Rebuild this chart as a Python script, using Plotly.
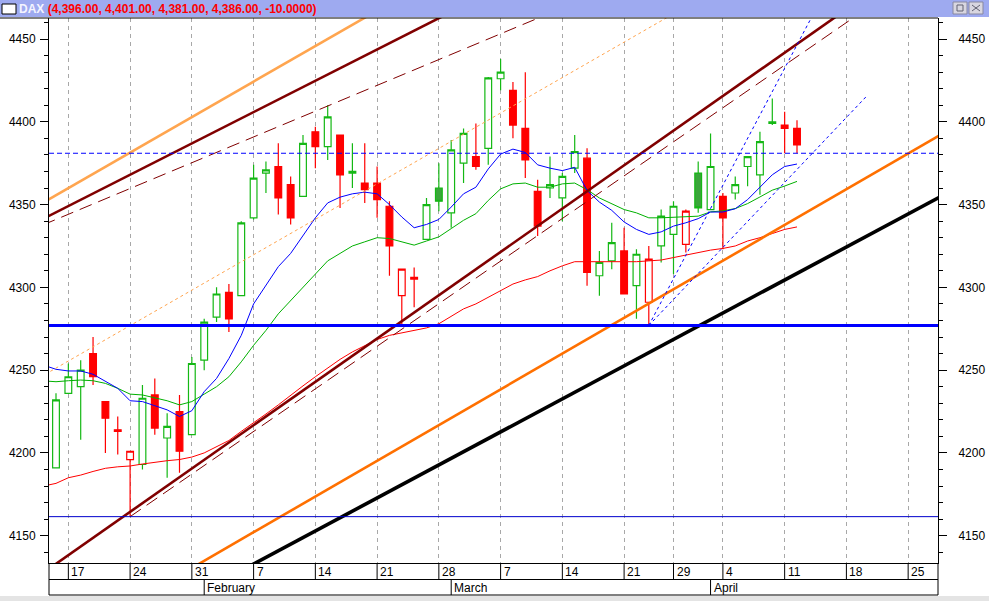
import plotly.graph_objects as go
import pandas as pd

# ---------------- data ----------------
HOLIDAYS = ["2005-03-25", "2005-03-28"]
CAL_START, CAL_END = "2005-01-13", "2005-04-29"
FIRST_CANDLE = "2005-01-14"
MA_START = "2005-01-13"

OPEN = [4191, 4236, 4240, 4260, 4231, 4214, 4196, 4193, 4235, 4209,
        4225, 4211, 4256, 4282, 4297, 4295, 4342, 4369, 4373, 4362,
        4355, 4394, 4385, 4392, 4369, 4363, 4363, 4349, 4295, 4306,
        4329, 4360, 4345, 4375, 4379, 4384, 4426, 4419, 4396, 4358,
        4360, 4354, 4372, 4378, 4307, 4316, 4322, 4301, 4291, 4325,
        4332, 4326, 4369, 4347, 4355, 4357, 4373, 4368, 4399, 4398, 4396]
HIGH = [4236, 4254, 4256, 4270, 4231, 4222, 4201, 4241, 4245, 4224,
        4235, 4258, 4281, 4300, 4302, 4340, 4374, 4376, 4387, 4367,
        4392, 4397, 4410, 4392, 4387, 4387, 4373, 4352, 4311, 4312,
        4354, 4375, 4389, 4396, 4399, 4427, 4438, 4424, 4430, 4365,
        4379, 4369, 4392, 4384, 4322, 4339, 4336, 4323, 4325, 4347,
        4352, 4347, 4376, 4393, 4357, 4367, 4379, 4394, 4414, 4406, 4401]
LOW = [4191, 4236, 4208, 4241, 4200, 4199, 4161.5, 4190, 4211, 4185,
       4188, 4211, 4250, 4279, 4273, 4295, 4341, 4357, 4344, 4338,
       4355, 4372, 4377, 4348, 4360, 4351, 4342, 4307, 4277, 4288,
       4329, 4346, 4336, 4363, 4371, 4374, 4419, 4390, 4366, 4331,
       4354, 4340, 4369, 4301, 4295, 4311, 4296, 4281, 4277, 4315,
       4308, 4321, 4345, 4347, 4323, 4353, 4361, 4356, 4398, 4381, 4381]
CLOSE = [4232, 4246, 4250, 4246, 4221, 4213, 4201, 4233, 4215, 4216,
         4201, 4254, 4279, 4296, 4281, 4339, 4366, 4371, 4354, 4342,
         4387, 4385, 4403, 4368, 4370, 4359, 4353, 4325, 4311, 4305,
         4350, 4352, 4383, 4393, 4373, 4426.5, 4430, 4398, 4377, 4337,
         4362, 4367, 4382, 4309, 4315, 4327, 4296, 4320, 4317, 4343,
         4349, 4346, 4348, 4373, 4342, 4362, 4379, 4388, 4400, 4396, 4386]

MA_FAST = [4253, 4250.5, 4249.5, 4249.5, 4247.5, 4243, 4239, 4231.5, 4231, 4228.5, 4226,
           4222, 4225.5, 4237, 4245, 4257, 4271, 4290, 4301, 4312.5, 4320.5,
           4331, 4342, 4351, 4354.5, 4356.5, 4357.5, 4356.5, 4350, 4342.5, 4336,
           4338, 4341, 4348.5, 4356.5, 4360.5, 4371.5, 4380.5, 4383.5, 4381.5, 4374,
           4372, 4370.5, 4372.5, 4358.5, 4351.5, 4346.5, 4339.5, 4335, 4332, 4333.5,
           4337, 4339, 4341.5, 4345.5, 4345.5, 4347.5, 4353, 4360.5, 4368, 4373, 4374.5]
MA_MID = [4243.5, 4243, 4243.6, 4244, 4243.6, 4242, 4239, 4235.5, 4235, 4233.3, 4231.5,
          4229, 4231, 4235.5, 4240, 4246, 4255, 4265, 4274, 4284, 4292,
          4300, 4308, 4316, 4320.5, 4325, 4327.5, 4330, 4329.5, 4327.5, 4325.5,
          4328, 4330.5, 4335.5, 4340.5, 4344.5, 4352.5, 4359.5, 4362.5, 4363, 4360.5,
          4360.5, 4362.5, 4363, 4359, 4354, 4350.5, 4347, 4345, 4342, 4342,
          4342.2, 4342.5, 4343, 4345.6, 4346.2, 4347.6, 4350.6, 4354.6, 4358.7, 4361.2, 4364]
MA_SLOW = [4180, 4181.6, 4185, 4186.6, 4188.8, 4190.7, 4191.6, 4192.1, 4193.3, 4194.5, 4195.3,
           4196, 4197.5, 4200, 4204, 4207.5, 4213, 4218, 4223.5, 4229, 4235,
           4240.5, 4246, 4251.5, 4256.5, 4261, 4265, 4268.5, 4271, 4272.5, 4274,
           4275.5, 4278, 4282.5, 4287, 4290, 4294, 4297.5, 4302, 4304.5, 4306.5,
           4310, 4313, 4315.5, 4315.5, 4315.5, 4315.5, 4315.5, 4315.5, 4316, 4316.5,
           4318, 4319.5, 4321, 4322.5, 4323.5, 4325, 4328, 4330, 4332.5, 4335, 4336.5]

# trend lines: (session pos 0, price 0, session pos 1, price 1, extend mode)
# extend: "both" = full line across chart, "ray" = from first point onwards, "seg" = segment
TRENDS = {
    "maroon_low":    (3.753, 4147.4, 50.72, 4393.2, "both"),
    "maroon_low_d":  (7.0, 4161.5, 65.4, 4462.0, "ray"),
    "maroon_up":     (0.514, 4343.5, 27.64, 4446.1, "both"),
    "maroon_up_d":   (0.514, 4339.5, 27.64, 4424.0, "both"),
    "orange_up":     (0.514, 4353.6, 25.75, 4461.8, "both"),
    "orange_mid":    (11.04, 4294.2, 50.36, 4462.5, "both"),
    "orange_low":    (12.93, 4134.5, 57.87, 4328.5, "both"),
    "black_low":     (17.15, 4133.5, 72.58, 4354.6, "both"),
    "blue_fan_1":    (49.0, 4277.0, 62.1, 4462.0, "ray"),
    "blue_fan_2":    (49.0, 4277.0, 66.64, 4415.5, "seg"),
}
LEVEL_SUPPORT = 4277
LEVEL_RESIST = 4381
LEVEL_LOW = 4161.5

TITLE_NAME = "DAX"
TITLE_VALUES = "(4,396.00, 4,401.00, 4,381.00, 4,386.00, -10.0000)"
Y_TICKS = [4150, 4200, 4250, 4300, 4350, 4400, 4450]

# ---------------- calendar ----------------
cal = [d for d in pd.bdate_range(CAL_START, CAL_END) if d.strftime("%Y-%m-%d") not in HOLIDAYS]
pos = {d.strftime("%Y-%m-%d"): i for i, d in enumerate(cal)}
c0 = pos[FIRST_CANDLE]
cx = list(range(c0, c0 + len(CLOSE)))
m0 = pos[MA_START]
mx = list(range(m0, m0 + len(MA_FAST)))

week_ticks = [i for i in range(1, len(cal)) if cal[i].isocalendar()[1] != cal[i - 1].isocalendar()[1]]
month_starts = [i for i in range(1, len(cal)) if cal[i].month != cal[i - 1].month]

X_RANGE = [0.433, 72.417]
Y_RANGE = [4133.5, 4462.7]

# ---------------- styling ----------------
FONT = "Liberation Sans, Arial, sans-serif"
GREEN = "#14b814"
GREEN_FILL = "#3aa53a"
RED = "#ff0000"
MAROON = "#800000"
ORANGE_LIGHT = "#ffa54f"
ORANGE = "#ff7000"
BLUE = "#0000ff"

PL, PR, PT, PB = 49, 938, 18, 563
W, H = 989, 601


def fx(p):
    return (p - PL) / (PR - PL)


def fy(p):
    return (PB - p) / (PB - PT)


fig = go.Figure()

# candles: colour by close vs previous close, fill by close vs open
n = len(CLOSE)
is_up = [True] + [CLOSE[k] >= CLOSE[k - 1] for k in range(1, n)]
for up, col, fill_dn in [(True, GREEN, GREEN_FILL), (False, RED, RED)]:
    idx = [k for k in range(n) if is_up[k] == up]
    fig.add_trace(go.Candlestick(
        x=[cx[k] for k in idx],
        open=[OPEN[k] for k in idx], high=[HIGH[k] for k in idx],
        low=[LOW[k] for k in idx], close=[CLOSE[k] for k in idx],
        increasing=dict(line=dict(color=col, width=1.2), fillcolor="white"),
        decreasing=dict(line=dict(color=col, width=1.2), fillcolor=fill_dn),
        whiskerwidth=0, hoverinfo="skip", showlegend=False))

# moving averages
for vals, col in [(MA_SLOW, RED), (MA_MID, "#00b000"), (MA_FAST, BLUE)]:
    fig.add_trace(go.Scatter(x=mx, y=vals, mode="lines", line=dict(color=col, width=1),
                             hoverinfo="skip", showlegend=False))


def trend_xy(x0, y0, x1, y1, mode):
    slope = (y1 - y0) / (x1 - x0)
    xa = X_RANGE[0] - 2 if mode == "both" else x0
    xb = X_RANGE[1] + 2 if mode in ("both", "ray") else x1
    return [xa, xb], [y0 + slope * (xa - x0), y0 + slope * (xb - x0)]


TREND_STYLE = {
    "maroon_low": dict(color=MAROON, width=2.6),
    "maroon_low_d": dict(color=MAROON, width=1, dash="13px,7px"),
    "maroon_up": dict(color=MAROON, width=2.6),
    "maroon_up_d": dict(color=MAROON, width=1, dash="13px,7px"),
    "orange_up": dict(color=ORANGE_LIGHT, width=2.6),
    "orange_mid": dict(color=ORANGE_LIGHT, width=1, dash="3px,3px"),
    "orange_low": dict(color=ORANGE, width=2.6),
    "black_low": dict(color="#000000", width=3.6),
    "blue_fan_1": dict(color=BLUE, width=1, dash="3px,3px"),
    "blue_fan_2": dict(color=BLUE, width=1, dash="3px,3px"),
}
for name, (x0, y0, x1, y1, mode) in TRENDS.items():
    xs, ys = trend_xy(x0, y0, x1, y1, mode)
    fig.add_trace(go.Scatter(x=xs, y=ys, mode="lines", line=TREND_STYLE[name],
                             hoverinfo="skip", showlegend=False))

# dummy trace for right axis
fig.add_trace(go.Scatter(x=[cx[0]], y=[CLOSE[0]], yaxis="y2", mode="markers",
                         marker=dict(opacity=0), hoverinfo="skip", showlegend=False))

shapes = []
# horizontal levels
shapes.append(dict(type="line", xref="paper", yref="y", x0=0, x1=1, y0=LEVEL_SUPPORT, y1=LEVEL_SUPPORT,
                   line=dict(color=BLUE, width=3), layer="above"))
shapes.append(dict(type="line", xref="paper", yref="y", x0=0, x1=1, y0=LEVEL_RESIST, y1=LEVEL_RESIST,
                   line=dict(color=BLUE, width=1, dash="5px,3px"), layer="above"))
shapes.append(dict(type="line", xref="paper", yref="y", x0=0, x1=1, y0=LEVEL_LOW, y1=LEVEL_LOW,
                   line=dict(color="#0000cc", width=1), layer="above"))

# title bar
shapes.append(dict(type="rect", xref="paper", yref="paper", x0=fx(0), x1=fx(W), y0=fy(17), y1=fy(0),
                   fillcolor="#9eaaf0", line=dict(width=0), layer="above"))
shapes.append(dict(type="rect", xref="paper", yref="paper", x0=fx(2), x1=fx(16), y0=fy(14), y1=fy(4),
                   fillcolor="white", line=dict(color="black", width=1), layer="above"))
for bx in (953, 969):
    shapes.append(dict(type="rect", xref="paper", yref="paper", x0=fx(bx), x1=fx(bx + 14), y0=fy(14), y1=fy(2),
                       fillcolor="#d8d6e0", line=dict(color="#8888a0", width=1), layer="above"))
shapes.append(dict(type="rect", xref="paper", yref="paper", x0=fx(957), x1=fx(963), y0=fy(11), y1=fy(5),
                   line=dict(color="#606070", width=1), layer="above"))
shapes.append(dict(type="line", xref="paper", yref="paper", x0=fx(972), x1=fx(980), y0=fy(11), y1=fy(5),
                   line=dict(color="#606070", width=1), layer="above"))
shapes.append(dict(type="line", xref="paper", yref="paper", x0=fx(972), x1=fx(980), y0=fy(5), y1=fy(11),
                   line=dict(color="#606070", width=1), layer="above"))
# top border
shapes.append(dict(type="line", xref="paper", yref="paper", x0=fx(0), x1=1, y0=1, y1=1,
                   line=dict(color="black", width=1.2), layer="above"))
# bottom date strip
shapes.append(dict(type="rect", xref="paper", yref="paper", x0=fx(0), x1=fx(W), y0=fy(H), y1=fy(596),
                   fillcolor="#e4e4e4", line=dict(width=0)))
for yy in (579.5, 595):
    shapes.append(dict(type="line", xref="paper", yref="paper", x0=0, x1=1, y0=fy(yy), y1=fy(yy),
                       line=dict(color="black", width=1)))
for xx in (0, 1):
    shapes.append(dict(type="line", xref="paper", yref="paper", x0=xx, x1=xx, y0=fy(563), y1=fy(595),
                       line=dict(color="black", width=1)))
for t in week_ticks:
    if X_RANGE[0] < t < X_RANGE[1]:
        shapes.append(dict(type="line", xref="x", yref="paper", x0=t, x1=t, y0=0, y1=fy(579.5),
                           line=dict(color="black", width=1)))
for m in month_starts:
    shapes.append(dict(type="line", xref="x", yref="paper", x0=m, x1=m, y0=fy(579.5), y1=fy(595),
                       line=dict(color="black", width=1)))
    if min(abs(m - t) for t in week_ticks) > 1:
        shapes.append(dict(type="line", xref="x", yref="paper", x0=m, x1=m, y0=0, y1=fy(579.5),
                           line=dict(color="black", width=1)))

annotations = []
for t in week_ticks:
    if X_RANGE[0] < t < X_RANGE[1] - 1:
        annotations.append(dict(x=t, y=fy(571.5), xref="x", yref="paper", text=str(cal[t].day),
                                showarrow=False, xanchor="left", yanchor="middle", xshift=1,
                                font=dict(family=FONT, size=12, color="black")))
for m in month_starts:
    annotations.append(dict(x=m, y=fy(587.5), xref="x", yref="paper", text=cal[m].strftime("%B"),
                            showarrow=False, xanchor="left", yanchor="middle", xshift=1,
                            font=dict(family=FONT, size=12, color="black")))
annotations.append(dict(x=fx(17), y=fy(9), xref="paper", yref="paper", xanchor="left", yanchor="middle",
                        showarrow=False,
                        text=f"<b><span style='color:#f4f4ff'>{TITLE_NAME}</span> "
                             f"<span style='color:#ff0000'>{TITLE_VALUES}</span></b>",
                        font=dict(family=FONT, size=12)))

axis_font = dict(family=FONT, size=12, color="black")
fig.update_layout(
    width=W, height=H,
    margin=dict(l=PL, r=W - PR, t=PT, b=H - PB, pad=0),
    paper_bgcolor="white", plot_bgcolor="white",
    showlegend=False, boxgap=0.22, hovermode=False,
    xaxis=dict(range=X_RANGE, tickvals=week_ticks, showticklabels=False, ticks="",
               showgrid=True, gridcolor="#a8a8a8", griddash="4px,4px", gridwidth=1,
               showline=True, linecolor="black", linewidth=1, zeroline=False,
               rangeslider=dict(visible=False), fixedrange=True, automargin=False),
    yaxis=dict(range=Y_RANGE, tickvals=Y_TICKS, ticks="outside", ticklen=8, tickcolor="black",
               showline=True, linecolor="black", linewidth=1, showgrid=False, zeroline=False,
               tickfont=axis_font, ticklabelstandoff=2, automargin=False, fixedrange=True,
               minor=dict(dtick=10, ticks="outside", ticklen=4, tickcolor="black", showgrid=False)),
    yaxis2=dict(range=Y_RANGE, overlaying="y", side="right", tickvals=Y_TICKS, ticks="outside",
                ticklen=8, tickcolor="black", showline=True, linecolor="black", linewidth=1,
                showgrid=False, zeroline=False, tickfont=axis_font, ticklabelstandoff=9,
                automargin=False, fixedrange=True,
                minor=dict(dtick=10, ticks="outside", ticklen=4, tickcolor="black", showgrid=False)),
    shapes=shapes, annotations=annotations,
)

fig.write_html("out.html", config={"displayModeBar": False, "staticPlot": True},
               post_script="document.body.style.margin='0px';document.body.style.padding='0px';"
                           "document.body.style.overflow='hidden';")
